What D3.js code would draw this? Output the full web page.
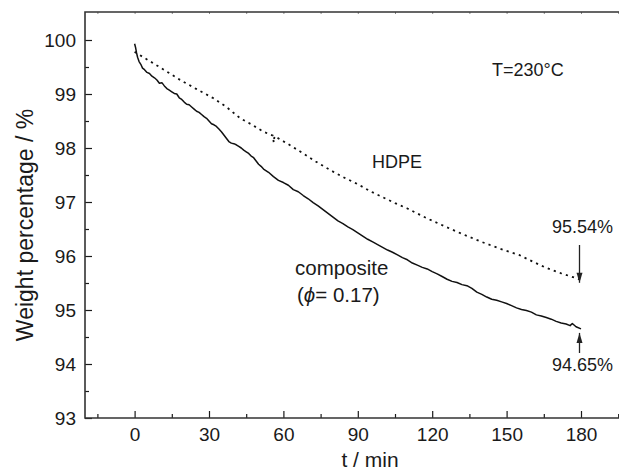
<!DOCTYPE html>
<html><head><meta charset="utf-8">
<script src="https://cdn.jsdelivr.net/npm/d3@7"></script>
<style>body{margin:0;background:#fff}svg{display:block}text{font-family:"Liberation Sans",Arial,Helvetica,sans-serif;fill:#1a1a1a}</style>
</head><body><svg id="c" width="619" height="473"></svg>
<script>
const xTicks = [0, 30, 60, 90, 120, 150, 180];
const xMinor = [-15, 15, 45, 75, 105, 135, 165, 195];
const yTicks = [93, 94, 95, 96, 97, 98, 99, 100];
const yMinor = [93.5, 94.5, 95.5, 96.5, 97.5, 98.5, 99.5];

const compT = [0,0.4,0.8,1.2,1.8,2.5,3.2,4,5,6,7,8,9,10,11,12,13,14,15,16,17,18,19,20,21,22,23,24,25,26,27,28,29,30,31,32,33,34,35,36,37,38,39,40,41,42,43,44,45,46,47,48,49,50,51,52,54,56,58,60,62,64,66,68,70,72,74,76,78,80,82,84,86,88,90,92,94,96,98,100,102,104,106,108,110,112,114,116,118,120,122,124,126,128,130,132,134,136,138,140,142,144,146,148,150,152,154,156,158,160,162,164,166,168,170,172,174,175.6,176.5,178,180];
const compW = [99.93,99.86,99.76,99.68,99.60,99.55,99.48,99.45,99.40,99.38,99.33,99.30,99.26,99.20,99.21,99.15,99.10,99.07,99.04,99.01,99.00,98.93,98.90,98.85,98.81,98.80,98.76,98.72,98.68,98.66,98.62,98.58,98.55,98.50,98.45,98.43,98.40,98.35,98.30,98.24,98.18,98.12,98.09,98.08,98.06,98.03,98.00,97.96,97.93,97.90,97.85,97.82,97.76,97.70,97.66,97.61,97.55,97.47,97.40,97.36,97.31,97.23,97.19,97.12,97.06,96.99,96.93,96.86,96.79,96.72,96.65,96.60,96.54,96.49,96.43,96.37,96.31,96.26,96.21,96.16,96.11,96.07,96.02,95.97,95.93,95.87,95.83,95.79,95.76,95.71,95.67,95.62,95.57,95.53,95.51,95.47,95.45,95.40,95.33,95.29,95.24,95.20,95.18,95.15,95.12,95.08,95.04,95.01,94.99,94.96,94.91,94.89,94.86,94.83,94.79,94.76,94.74,94.71,94.75,94.69,94.65];

const hdpeT = [0,5,10,18.4,25,31.8,37,42.6,47,52,55.8,56.1,56.4,62,68,73,78.9,85,90,95,100,105,110,117.8,125,132,140,147,155,160.8,166,172,176,180];
const hdpeW = [99.78,99.64,99.50,99.26,99.09,98.92,98.76,98.55,98.44,98.30,98.23,98.10,98.22,98.07,97.90,97.75,97.59,97.44,97.33,97.20,97.09,96.98,96.88,96.70,96.55,96.41,96.26,96.14,96.02,95.89,95.78,95.68,95.62,95.56];

const svg = d3.select("#c");
const x = d3.scaleLinear().domain([-20, 180]).range([85, 581]);
const y = d3.scaleLinear().domain([93, 100]).range([418, 40]);
const stroke = "#1a1a1a";

// axes
const gx = svg.append("g").attr("transform","translate(0,418)")
  .call(d3.axisBottom(x).tickValues(xTicks).tickSizeInner(-7).tickSizeOuter(0).tickPadding(10).tickFormat(d3.format("d")));
gx.select(".domain").remove();
gx.selectAll("text").attr("font-size",19).attr("font-family","Liberation Sans, Arial").attr("fill","#1a1a1a");
gx.selectAll("line").attr("stroke",stroke).attr("stroke-width",1.2);
const gxm = svg.append("g").attr("transform","translate(0,418)")
  .call(d3.axisBottom(x).tickValues(xMinor).tickSizeInner(-4).tickSizeOuter(0).tickFormat(""));
gxm.select(".domain").remove();
gxm.selectAll("line").attr("stroke",stroke).attr("stroke-width",1.2);

const gt = svg.append("g").attr("transform","translate(0,12)")
  .call(d3.axisTop(x).tickValues(xTicks.concat(xMinor)).tickSizeInner(-2).tickSizeOuter(0).tickFormat(""));
gt.select(".domain").remove();
gt.selectAll("line").attr("stroke","#888").attr("stroke-width",1);

const gy = svg.append("g").attr("transform","translate(85,0)")
  .call(d3.axisLeft(y).tickValues(yTicks).tickSizeInner(-7).tickSizeOuter(0).tickPadding(9).tickFormat(d3.format("d")));
gy.select(".domain").remove();
gy.selectAll("text").attr("font-size",19).attr("font-family","Liberation Sans, Arial").attr("fill","#1a1a1a");
gy.selectAll("line").attr("stroke",stroke).attr("stroke-width",1.2);
const gym = svg.append("g").attr("transform","translate(85,0)")
  .call(d3.axisLeft(y).tickValues(yMinor).tickSizeInner(-4).tickSizeOuter(0).tickFormat(""));
gym.select(".domain").remove();
gym.selectAll("line").attr("stroke",stroke).attr("stroke-width",1.2);

// frame
svg.append("path").attr("d","M619,12H85V418H619").attr("fill","none").attr("stroke","#333").attr("stroke-width",1.6);

// curves
const line = d3.line().x(d=>x(d[0])).y(d=>y(d[1]));
svg.append("path").datum(compT.map((t,i)=>[t,compW[i]])).attr("d",line)
  .attr("fill","none").attr("stroke","#111").attr("stroke-width",1.5).attr("stroke-linejoin","round");
svg.append("path").datum(hdpeT.map((t,i)=>[t,hdpeW[i]])).attr("d",line)
  .attr("fill","none").attr("stroke","#111").attr("stroke-width",1.8).attr("stroke-dasharray","2.2,4.2");

// arrows
function arrow(x0, y0, y1){
  svg.append("line").attr("x1",x0).attr("x2",x0).attr("y1",y0).attr("y2",y1).attr("stroke","#222").attr("stroke-width",1.3);
  const dir = y1 > y0 ? 1 : -1;
  svg.append("path").attr("d",`M${x0},${y1}L${x0-3},${y1-dir*10}L${x0+3},${y1-dir*10}Z`).attr("fill","#222");
}
arrow(x(180)-1.5, 245, y(95.56)+3);
arrow(x(180)-1.5, 353, y(94.65)+4);

// labels
const txt = (s, xx, yy, fs, anchor) => svg.append("text").attr("x",xx).attr("y",yy).attr("font-size",fs).attr("text-anchor",anchor||"start").text(s);
txt("T=230°C", 492, 76, 18);
txt("HDPE", 372, 168, 18);
txt("95.54%", 552, 233, 18);
txt("94.65%", 552, 371, 18);
txt("composite", 295, 275, 20.5);
const t2 = svg.append("text").attr("x",297).attr("y",302).attr("font-size",20.5);
t2.append("tspan").text("(");
t2.append("tspan").attr("font-style","italic").text("\u03D5");
t2.append("tspan").text("= 0.17)");
txt("t / min", 370, 467, 21, "middle");
svg.append("text").attr("transform","translate(33,225) rotate(-90)").attr("text-anchor","middle").attr("font-size",23).text("Weight percentage / %");
</script></body></html>
